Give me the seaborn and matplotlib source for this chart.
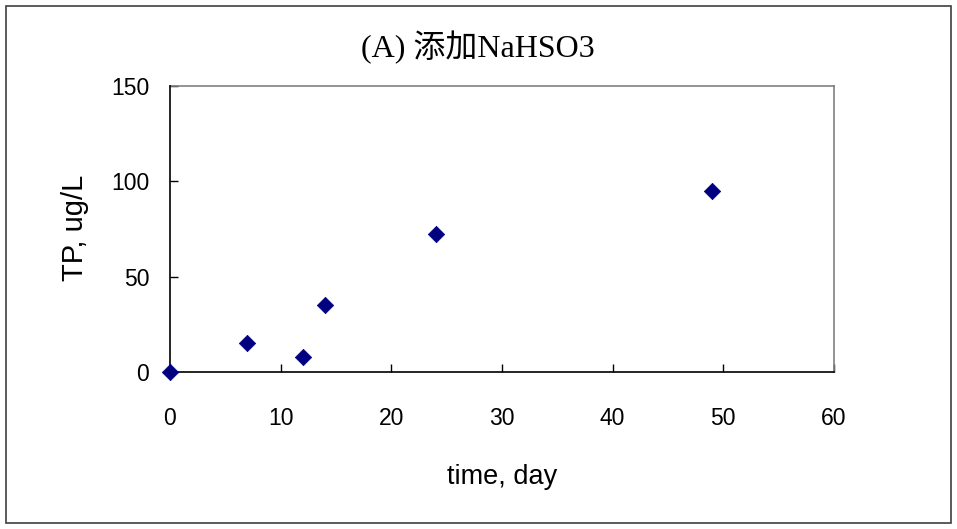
import matplotlib
matplotlib.use("Agg")
import matplotlib.pyplot as plt
import seaborn as sns
import pandas as pd
from matplotlib.patches import Rectangle

days = [0, 7, 12, 14, 24, 49]
tp = [0, 15, 8, 35, 72.5, 95]
x_ticks = [0, 10, 20, 30, 40, 50, 60]
y_ticks = [0, 50, 100, 150]
title = "(A) 添加NaHSO3"
xlabel = "time, day"
ylabel = "TP, ug/L"

sns.set_theme(style="white")
plt.rcParams['font.family'] = ['Liberation Sans', 'DejaVu Sans']
plt.rcParams['text.color'] = 'black'
plt.rcParams['axes.labelcolor'] = 'black'
plt.rcParams['xtick.color'] = 'black'
plt.rcParams['ytick.color'] = 'black'

df = pd.DataFrame({"day": days, "tp": tp})

fig = plt.figure(figsize=(9.57, 5.29), dpi=100)
ax = fig.add_axes([170/957, 1-372/529, (834-170)/957, (372-86)/529])

sns.scatterplot(data=df, x="day", y="tp", ax=ax, marker="D", s=70,
                color="#000080", edgecolor="#000080", linewidth=0.5,
                clip_on=False, zorder=5)

ax.set_xlim(0, 60)
ax.set_ylim(0, 150)
ax.set_xticks(x_ticks)
ax.set_yticks(y_ticks)
ax.set_xticklabels([str(v) for v in x_ticks], fontsize=16.5)
ax.set_yticklabels([str(v) for v in y_ticks], fontsize=16.5)
ax.tick_params(axis='both', direction='in', length=6, width=1, color='black',
               bottom=True, left=True)
ax.tick_params(axis='x', pad=25)
ax.tick_params(axis='y', pad=15)
ax.set_xlabel(xlabel, fontsize=19.5)
ax.set_ylabel(ylabel, fontsize=21)
ax.xaxis.set_label_coords(0.5, (372-464)/286)
ax.yaxis.set_label_coords((89-170)/664, 0.505)

for side in ['top', 'right']:
    ax.spines[side].set_color('#808080')
    ax.spines[side].set_linewidth(1.2)
for side in ['left', 'bottom']:
    ax.spines[side].set_color('black')
    ax.spines[side].set_linewidth(1.2)
    ax.spines[side].set_zorder(3)

fig.text(478/957, 1-48/529, title, ha='center', va='center', fontsize=23,
         color='black', family=['Liberation Serif', 'Noto Sans CJK SC'])

fig.patches.append(Rectangle((5.5/957, 6/529), 1-11.5/957, 1-12/529,
                             transform=fig.transFigure, fill=False,
                             edgecolor='#404040', linewidth=1.2))

fig.savefig("out.png", dpi=100)
